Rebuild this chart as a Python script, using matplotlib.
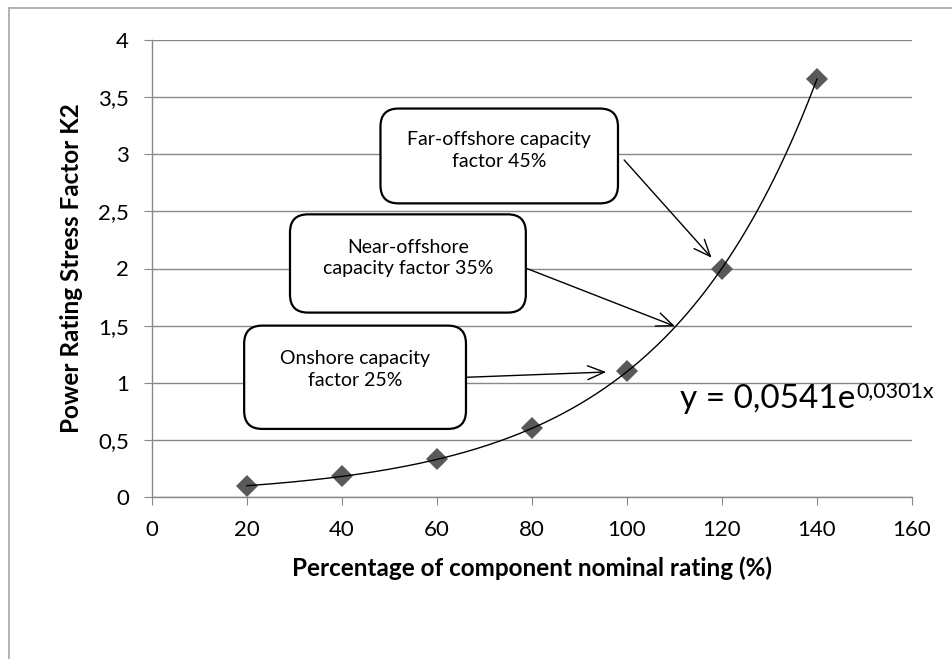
import numpy as np
import matplotlib
matplotlib.use('Agg')
from matplotlib import pyplot as plt
from matplotlib.patches import FancyBboxPatch
from matplotlib.lines import Line2D

# data
rating_pct = [20, 40, 60, 80, 100, 120, 140]
stress_k2 = [0.1, 0.18, 0.33, 0.6, 1.1, 2.0, 3.66]
trend_a = 0.0541
trend_b = 0.0301
x_ticks = [0, 20, 40, 60, 80, 100, 120, 140, 160]
y_ticks = [0, 0.5, 1, 1.5, 2, 2.5, 3, 3.5, 4]

# callouts: text, box (x0, y0, x1, y1), text centre, arrow start, arrow end
callout_texts = ["Far-offshore capacity\nfactor 45%",
                 "Near-offshore\ncapacity factor 35%",
                 "Onshore capacity\nfactor 25%"]
callout_boxes = [(48.1, 2.57, 98.1, 3.40),
                 (29.05, 1.614, 78.7, 2.474),
                 (19.4, 0.596, 66.1, 1.50)]
callout_text_pos = [(73.1, 3.03), (53.9, 2.092), (42.7, 1.116)]
arrow_start = [(99.4, 2.95), (78.9, 2.0), (66.3, 1.048)]
arrow_end = [(117.8, 2.094), (110.1, 1.494), (95.6, 1.094)]

plt.rcParams['font.family'] = ['Lato', 'DejaVu Sans']

W, H = 953, 659
fig = plt.figure(figsize=(W / 100, H / 100), dpi=100)
ax = fig.add_axes([152 / W, 1 - 497 / H, 760 / W, 457 / H])

grid_col = '#888888'
ax.set_xlim(0, 160)
ax.set_ylim(0, 4)
ax.set_xticks(x_ticks)
ax.set_yticks(y_ticks)
ax.set_xticklabels([str(t) for t in x_ticks])
ax.set_yticklabels([('%g' % t).replace('.', ',') for t in y_ticks])
ax.yaxis.grid(True, color=grid_col, lw=1)
ax.set_axisbelow(True)
for s in ['top', 'right']:
    ax.spines[s].set_visible(False)
for s in ['left', 'bottom']:
    ax.spines[s].set_color(grid_col)
    ax.spines[s].set_linewidth(1)
ax.tick_params(axis='both', direction='out', length=5.5, width=0.8,
               color=grid_col, labelsize=16, pad=11)

# trendline (Excel exponential fit)
xs = np.linspace(rating_pct[0], rating_pct[-1], 200)
ax.plot(rating_pct, stress_k2, linestyle='none', marker='D', markersize=11,
        color='#595959', markeredgewidth=0, zorder=3)
ax.plot(xs, trend_a * np.exp(trend_b * xs), color='black', lw=1, zorder=4)

ax.set_xlabel('Percentage of component nominal rating (%)', fontsize=17.5,
              fontweight='bold', labelpad=12)
ax.set_ylabel('Power Rating Stress Factor K2', fontsize=17.5,
              fontweight='bold', labelpad=11)

# callout boxes and arrows
asp = (760 / 160) / (457 / 4)
for txt, (x0, y0, x1, y1), tp, a0, a1 in zip(callout_texts, callout_boxes,
                                             callout_text_pos, arrow_start, arrow_end):
    box = FancyBboxPatch((x0, y0), x1 - x0, y1 - y0,
                         boxstyle='round,pad=0,rounding_size=3.8',
                         mutation_aspect=asp, facecolor='white',
                         edgecolor='black', lw=1.6, zorder=5)
    ax.add_patch(box)
    ax.text(tp[0], tp[1], txt, ha='center', va='center', fontsize=14,
            linespacing=1.35, zorder=6)
    ax.annotate('', xy=a1, xytext=a0,
                arrowprops=dict(arrowstyle='->,head_length=0.6,head_width=0.25',
                                mutation_scale=20, color='black', lw=1,
                                shrinkA=0, shrinkB=0), zorder=6)

eq = ax.text(111.2, 0.779, 'y = 0,0541e', fontsize=24, va='baseline',
             ha='left', zorder=6)
ax.annotate('0,0301x', xy=(1, 0), xycoords=eq, xytext=(1, 17),
            textcoords='offset pixels', fontsize=15.5, va='baseline', ha='left')

# outer chart frame (only top and left edges visible)
frame_col = '#a6a6a6'
fig.add_artist(Line2D([9 / W, 1], [1 - 8 / H, 1 - 8 / H], transform=fig.transFigure,
                      color=frame_col, lw=1.2))
fig.add_artist(Line2D([9 / W, 9 / W], [0, 1 - 8 / H], transform=fig.transFigure,
                      color=frame_col, lw=1.2))

fig.savefig('out.png', dpi=100)
